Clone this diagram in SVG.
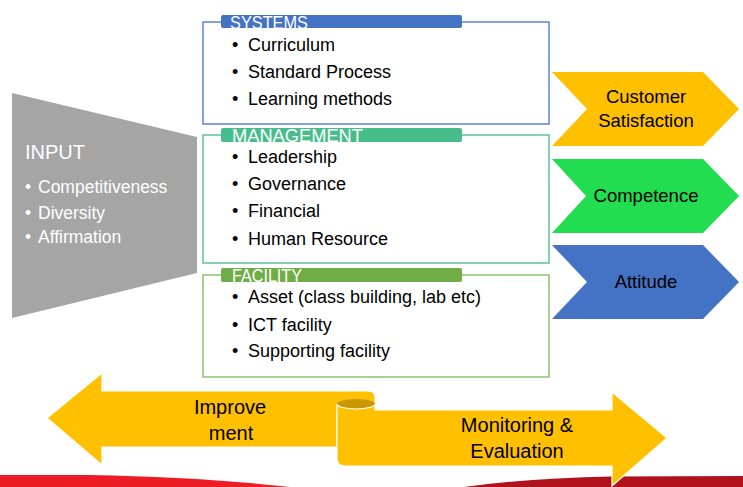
<svg xmlns="http://www.w3.org/2000/svg" width="743" height="487" viewBox="0 0 743 487">
<style>
text{font-family:"Liberation Sans",Arial,sans-serif;}
.in{fill:#fff;font-size:17.5px;}
.bl{fill:#000;font-size:18px;}
.lbl{fill:#fff;font-size:19px;}
.ch{fill:#000;font-size:18.5px;text-anchor:middle;}
.ar{fill:#000;font-size:20px;text-anchor:middle;}
.box{fill:#fff;stroke-width:1.5;}
.gold{fill:#FFC000;stroke:#fff;stroke-width:1.2;}
</style>
<defs>
<clipPath id="c1"><rect x="221" y="15" width="241" height="13"/></clipPath>
<clipPath id="c2"><rect x="221" y="128" width="241" height="14"/></clipPath>
<clipPath id="c3"><rect x="221" y="268" width="241" height="14"/></clipPath>
</defs>
<rect width="743" height="487" fill="#fff"/>
<g id="band">
<path d="M0,475 L90,475 Q200,477 290,487 L0,487 Z" fill="#ED1C24"/>
<path d="M464,487 Q530,478 611,476.5 L743,476 L743,487 Z" fill="#B0121B"/>
</g>
<g id="input">
<polygon points="12,93 197,137 197,273 12,318" fill="#A5A5A5"/>
<text x="25" y="159" fill="#fff" font-size="20">INPUT</text>
<text class="in" x="25" y="193">•</text><text class="in" x="38" y="193">Competitiveness</text>
<text class="in" x="25" y="219">•</text><text class="in" x="38" y="219">Diversity</text>
<text class="in" x="25" y="243">•</text><text class="in" x="38" y="243">Affirmation</text>
</g>
<g id="systems">
<rect class="box" x="203" y="22" width="346" height="102" stroke="#5B84D6"/>
<rect x="221" y="15" width="241" height="13" rx="2" fill="#4472C4"/>
<text class="lbl" x="230" y="29" clip-path="url(#c1)" textLength="78" lengthAdjust="spacingAndGlyphs">SYSTEMS</text>
<text class="bl" x="232" y="51">•</text><text class="bl" x="248" y="51">Curriculum</text>
<text class="bl" x="232" y="78">•</text><text class="bl" x="248" y="78">Standard Process</text>
<text class="bl" x="232" y="105">•</text><text class="bl" x="248" y="105">Learning methods</text>
</g>
<g id="management">
<rect class="box" x="203" y="135" width="346" height="128" stroke="#5CC39A"/>
<rect x="221" y="128" width="241" height="14" rx="2" fill="#48BD8C"/>
<text class="lbl" x="232" y="142" clip-path="url(#c2)" textLength="131" lengthAdjust="spacingAndGlyphs">MANAGEMENT</text>
<text class="bl" x="232" y="163">•</text><text class="bl" x="248" y="163">Leadership</text>
<text class="bl" x="232" y="190">•</text><text class="bl" x="248" y="190">Governance</text>
<text class="bl" x="232" y="217">•</text><text class="bl" x="248" y="217">Financial</text>
<text class="bl" x="232" y="245">•</text><text class="bl" x="248" y="245">Human Resource</text>
</g>
<g id="facility">
<rect class="box" x="203" y="275" width="346" height="102" stroke="#8DC26F"/>
<rect x="221" y="268" width="241" height="14" rx="2" fill="#70AD47"/>
<text class="lbl" x="232" y="282" clip-path="url(#c3)" textLength="70" lengthAdjust="spacingAndGlyphs">FACILITY</text>
<text class="bl" x="232" y="303">•</text><text class="bl" x="248" y="303">Asset (class building, lab etc)</text>
<text class="bl" x="232" y="331">•</text><text class="bl" x="248" y="331">ICT facility</text>
<text class="bl" x="232" y="357">•</text><text class="bl" x="248" y="357">Supporting facility</text>
</g>
<g id="customer-satisfaction">
<polygon points="552,72 703,72 739,109 703,146 552,146 587,109" fill="#FFC000"/>
<text class="ch" x="646" y="103">Customer</text>
<text class="ch" x="646" y="127">Satisfaction</text>
</g>
<g id="competence">
<polygon points="552,159 703,159 739,196 703,233 552,233 586,196" fill="#22DD4F"/>
<text class="ch" x="646" y="202">Competence</text>
</g>
<g id="attitude">
<polygon points="552,245 703,245 739,282 703,319 552,319 587,282" fill="#4472C4"/>
<text class="ch" x="646" y="288">Attitude</text>
</g>
<g id="improvement">
<path class="gold" d="M47,418 L102,373 L102,391 L367,391 Q375,391 375,397 L375,410 L337,410 L337,447 L102,447 L102,465 Z"/>
<path d="M337,404 A19,5 0 0 1 375,404 L375,411 L337,411 Z" fill="#C99800"/>
<text class="ar" x="230" y="414">Improve</text>
<text class="ar" x="231" y="440">ment</text>
</g>
<g id="monitoring">
<path class="gold" d="M337,404 A19,5 0 0 0 375,404 L375,410 L612,410 L612,392 L667,438 L612,486 L612,466 L345,466 Q337,466 337,458 Z"/>
<text class="ar" x="517" y="432">Monitoring &amp;</text>
<text class="ar" x="517" y="458">Evaluation</text>
</g>
<g id="connectors"/>
</svg>
